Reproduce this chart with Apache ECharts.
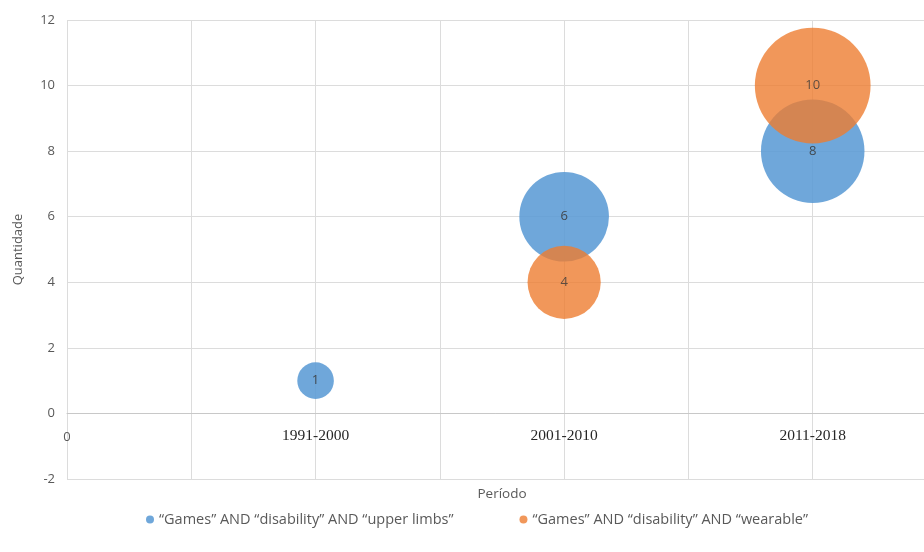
<!DOCTYPE html>
<html>
<head>
<meta charset="utf-8">
<script src="https://cdn.jsdelivr.net/npm/echarts@6/dist/echarts.min.js"></script>
<style>
  html, body { margin: 0; padding: 0; background: #fff; }
  #main { width: 924px; height: 552px; }
</style>
</head>
<body>
<div id="main"></div>
<script>
// period labels sit at x = 1, 2, 3
var periodos = ['1991-2000', '2001-2010', '2011-2018'];
var serieNomes = ['\u201cGames\u201d AND \u201cdisability\u201d AND \u201cupper limbs\u201d',
                  '\u201cGames\u201d AND \u201cdisability\u201d AND \u201cwearable\u201d'];
// [x position, quantidade]
var upperLimbs = [[1, 1], [2, 6], [3, 8]];
var wearable = [[2, 4], [3, 10]];

var myChart = echarts.init(document.getElementById('main'));

// bubble area proportional to value (Excel style)
function bubbleSize(v) {
    return 36.6 * Math.sqrt(v[1]);
}

var labelStyle = {
    show: true,
    position: 'inside',
    color: '#3a3a3a',
    fontSize: 13,
    fontFamily: 'Open Sans',
    formatter: function (p) { return p.value[1]; }
};

option = {
    animation: false,
    grid: { left: 67, width: 870, top: 20, bottom: 73, outerBoundsMode: 'none', containLabel: false },
    legend: {
        bottom: 20,
        left: 141,
        itemGap: 66,
        icon: 'circle',
        itemWidth: 8,
        itemHeight: 8,
        textStyle: { color: '#595959', fontSize: 14.5, fontFamily: 'Open Sans' },
        data: serieNomes
    },
    xAxis: {
        type: 'value',
        min: 0,
        max: 3.5,
        interval: 0.5,
        // horizontal axis crosses the vertical one at 0 (one step of 2 above the bottom)
        offset: -65.6,
        name: 'Período',
        nameLocation: 'middle',
        nameGap: 74,
        nameTextStyle: { color: '#595959', fontSize: 13.5, fontFamily: 'Open Sans' },
        axisLine: { onZero: false, lineStyle: { color: '#c8c8c8' } },
        axisTick: { show: false },
        splitLine: { lineStyle: { color: '#dcdcdc' } },
        axisLabel: {
            margin: 15,
            color: '#262626',
            fontSize: 15.5,
            fontFamily: 'Liberation Serif',
            formatter: function (v) {
                if (v === 0) return '{z|0}';
                if (Number.isInteger(v) && periodos[v - 1]) return periodos[v - 1];
                return '';
            },
            rich: {
                z: { fontFamily: 'Open Sans', color: '#595959', fontSize: 13, padding: [2, 0, 0, 0] }
            }
        }
    },
    yAxis: {
        type: 'value',
        min: -2,
        max: 12,
        interval: 2,
        name: 'Quantidade',
        nameLocation: 'middle',
        nameGap: 42,
        nameTextStyle: { color: '#595959', fontSize: 13, fontFamily: 'Open Sans' },
        axisLine: { show: false, onZero: false },
        axisTick: { show: false },
        splitLine: { lineStyle: { color: '#dcdcdc' } },
        axisLabel: { color: '#595959', fontSize: 13, margin: 12, fontFamily: 'Open Sans' }
    },
    series: [
        {
            name: serieNomes[0],
            type: 'scatter',
            data: upperLimbs,
            symbolSize: bubbleSize,
            itemStyle: { color: '#5B9BD5', opacity: 0.88 },
            label: labelStyle
        },
        {
            name: serieNomes[1],
            type: 'scatter',
            data: wearable,
            symbolSize: bubbleSize,
            itemStyle: { color: '#ED7D31', opacity: 0.8 },
            label: labelStyle
        }
    ]
};

myChart.setOption(option);
</script>
</body>
</html>
